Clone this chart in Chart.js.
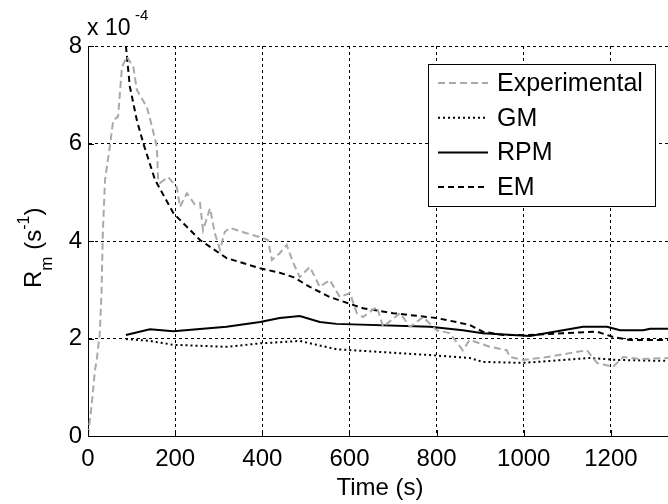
<!DOCTYPE html>
<html>
<head>
<meta charset="utf-8">
<script src="https://cdn.jsdelivr.net/npm/chart.js@4/dist/chart.umd.min.js"></script>
<style>
  html, body { margin: 0; padding: 0; background: #fff; }
  #wrap { width: 668px; height: 504px; position: relative; }
</style>
</head>
<body>
<div id="wrap"><canvas id="rmChart" width="668" height="504"></canvas></div>
<script>
// values in units of 1e-4 s^-1
const expTime = [0, 8, 16, 20, 27, 31, 34, 39, 50, 58, 69, 78, 89, 104, 112, 135, 147, 158, 161, 165, 184, 204, 211, 227, 245, 257, 264, 280, 291, 303, 314, 326, 360, 402, 413, 422, 440, 456, 471, 486, 509, 532, 555, 578, 601, 617, 631, 663, 677, 716, 739, 769, 800, 830, 860, 876, 922, 961, 968, 999, 1053, 1106, 1145, 1168, 1205, 1228, 1270, 1331];
const expValue = [0, 0.6, 1.35, 1.56, 2.1, 2.93, 4.16, 5.25, 5.93, 6.48, 6.55, 7.57, 7.78, 7.57, 7.1, 6.75, 6.34, 5.93, 5.25, 5.19, 5.31, 5.1, 4.7, 4.98, 4.75, 4.78, 4.22, 4.67, 4.16, 3.82, 4.19, 4.27, 4.17, 4.06, 4.02, 3.61, 3.75, 3.92, 3.55, 3.26, 3.47, 3.06, 3.2, 2.85, 2.93, 2.52, 2.44, 2.65, 2.24, 2.52, 2.24, 2.44, 2.17, 2.11, 1.76, 1.97, 1.83, 1.76, 1.62, 1.56, 1.62, 1.7, 1.76, 1.5, 1.42, 1.62, 1.58, 1.6];

const gmTime = [87, 142, 196, 318, 395, 486, 525, 570, 785, 876, 906, 999, 1152, 1214, 1331];
const gmValue = [1.99, 1.95, 1.87, 1.83, 1.9, 1.95, 1.87, 1.78, 1.66, 1.6, 1.52, 1.5, 1.6, 1.56, 1.54];

const rpmTime = [87, 142, 196, 318, 395, 440, 486, 532, 570, 785, 860, 906, 1014, 1090, 1136, 1191, 1221, 1274, 1290, 1331];
const rpmValue = [2.07, 2.19, 2.15, 2.24, 2.34, 2.42, 2.46, 2.34, 2.3, 2.24, 2.17, 2.11, 2.05, 2.17, 2.24, 2.24, 2.17, 2.17, 2.2, 2.2];

const emTime = [87, 96, 112, 127, 154, 196, 257, 318, 395, 440, 471, 509, 555, 631, 700, 800, 876, 906, 953, 1014, 1090, 1168, 1205, 1244, 1331];
const emValue = [8.0, 7.17, 6.48, 6.0, 5.25, 4.57, 4.02, 3.65, 3.44, 3.35, 3.26, 3.06, 2.85, 2.62, 2.52, 2.42, 2.28, 2.14, 2.07, 2.07, 2.11, 2.14, 2.03, 1.97, 1.97];

const xTicks = [0, 200, 400, 600, 800, 1000, 1200];
const yTicks = [0, 2, 4, 6, 8];

const FONT = '"Liberation Sans", Arial, sans-serif';

const toPoints = (xs, ys) => xs.map((x, i) => ({ x: x, y: ys[i] }));

// Legend, axis labels, exponent and inward tick marks
const decorPlugin = {
    id: 'decor',
    afterDraw(chart) {
        const ctx = chart.ctx;
        const area = chart.chartArea;
        const xs = chart.scales.x;
        const ys = chart.scales.y;
        ctx.save();

        // inward ticks
        ctx.strokeStyle = '#000';
        ctx.lineWidth = 1;
        ctx.setLineDash([]);
        xTicks.forEach(v => {
            const px = Math.round(xs.getPixelForValue(v)) + 0.5;
            ctx.beginPath();
            ctx.moveTo(px, area.bottom);
            ctx.lineTo(px, area.bottom - 6);
            ctx.stroke();
        });
        yTicks.forEach(v => {
            const py = Math.round(ys.getPixelForValue(v)) + 0.5;
            ctx.beginPath();
            ctx.moveTo(area.left, py);
            ctx.lineTo(area.left + 6, py);
            ctx.stroke();
        });

        ctx.fillStyle = '#000';

        // exponent label
        ctx.textBaseline = 'alphabetic';
        ctx.textAlign = 'left';
        ctx.font = '23px ' + FONT;
        ctx.fillText('x 10', 87, 35);
        ctx.font = '15px ' + FONT;
        ctx.fillText('-4', 135, 20);

        // x axis title
        ctx.font = '24px ' + FONT;
        ctx.textAlign = 'center';
        ctx.fillText('Time (s)', 380, 495);

        // y axis title, rotated
        ctx.save();
        ctx.translate(41, 288);
        ctx.rotate(-Math.PI / 2);
        ctx.textAlign = 'left';
        let cx = 0;
        ctx.font = '24px ' + FONT;
        ctx.fillText('R', cx, 0);
        cx += ctx.measureText('R').width;
        ctx.font = '17px ' + FONT;
        ctx.fillText('m', cx, 11);
        cx += ctx.measureText('m').width;
        ctx.font = '24px ' + FONT;
        ctx.fillText(' (s', cx, 0);
        cx += ctx.measureText(' (s').width;
        ctx.font = '16px ' + FONT;
        ctx.fillText('-1', cx, -12);
        cx += ctx.measureText('-1').width;
        ctx.font = '24px ' + FONT;
        ctx.fillText(')', cx, 0);
        ctx.restore();

        // legend box
        const bx = 428.5, by = 64.5, bw = 227, bh = 142;
        ctx.fillStyle = '#fff';
        ctx.fillRect(bx, by, bw, bh);
        ctx.strokeStyle = '#000';
        ctx.lineWidth = 1;
        ctx.strokeRect(bx, by, bw, bh);
        ctx.font = '25px ' + FONT;
        ctx.textAlign = 'left';
        ctx.textBaseline = 'middle';
        chart.data.datasets.forEach((ds, i) => {
            const ry = 83 + i * 34.7;
            ctx.strokeStyle = ds.borderColor;
            ctx.lineWidth = ds.borderWidth;
            ctx.setLineDash(ds.borderDash || []);
            ctx.beginPath();
            ctx.moveTo(438, ry);
            ctx.lineTo(488, ry);
            ctx.stroke();
            ctx.setLineDash([]);
            ctx.fillStyle = '#000';
            ctx.fillText(ds.label, 497, ry + 1);
        });
        ctx.restore();
    }
};

const ctx = document.getElementById('rmChart').getContext('2d');

new Chart(ctx, {
    type: 'line',
    data: {
        datasets: [
            {
                label: 'Experimental',
                data: toPoints(expTime, expValue),
                borderColor: '#a9a9a9',
                borderWidth: 2,
                borderDash: [7, 4]
            },
            {
                label: 'GM',
                data: toPoints(gmTime, gmValue),
                borderColor: '#000',
                borderWidth: 2,
                borderDash: [2, 3]
            },
            {
                label: 'RPM',
                data: toPoints(rpmTime, rpmValue),
                borderColor: '#000',
                borderWidth: 2,
                borderDash: []
            },
            {
                label: 'EM',
                data: toPoints(emTime, emValue),
                borderColor: '#000',
                borderWidth: 2,
                borderDash: [6, 4]
            }
        ]
    },
    options: {
        responsive: false,
        animation: false,
        devicePixelRatio: 1,
        layout: { padding: { top: 46, right: 0, left: 0, bottom: 0 } },
        elements: {
            point: { radius: 0 },
            line: { tension: 0, fill: false }
        },
        scales: {
            x: {
                type: 'linear',
                min: 0,
                max: 1331,
                afterBuildTicks: (scale) => {
                    scale.ticks = xTicks.map(v => ({ value: v }));
                },
                afterFit: (scale) => { scale.height = 68; },
                grid: { color: '#000', lineWidth: 1, drawTicks: false },
                border: { display: true, color: '#000', width: 1, dash: [3, 3] },
                ticks: {
                    color: '#000',
                    font: { family: FONT, size: 24 },
                    padding: 9,
                    maxRotation: 0,
                    autoSkip: false,
                    callback: (v) => String(v)
                }
            },
            y: {
                min: 0,
                max: 8,
                afterBuildTicks: (scale) => {
                    scale.ticks = yTicks.map(v => ({ value: v }));
                },
                afterFit: (scale) => { scale.width = 88; },
                grid: { color: '#000', lineWidth: 1, drawTicks: false },
                border: { display: true, color: '#000', width: 1, dash: [3, 3] },
                ticks: {
                    color: '#000',
                    font: { family: FONT, size: 24 },
                    padding: 6,
                    autoSkip: false,
                    callback: (v) => String(v)
                }
            }
        },
        plugins: {
            legend: { display: false },
            tooltip: { enabled: false }
        }
    },
    plugins: [decorPlugin]
});
</script>
</body>
</html>
